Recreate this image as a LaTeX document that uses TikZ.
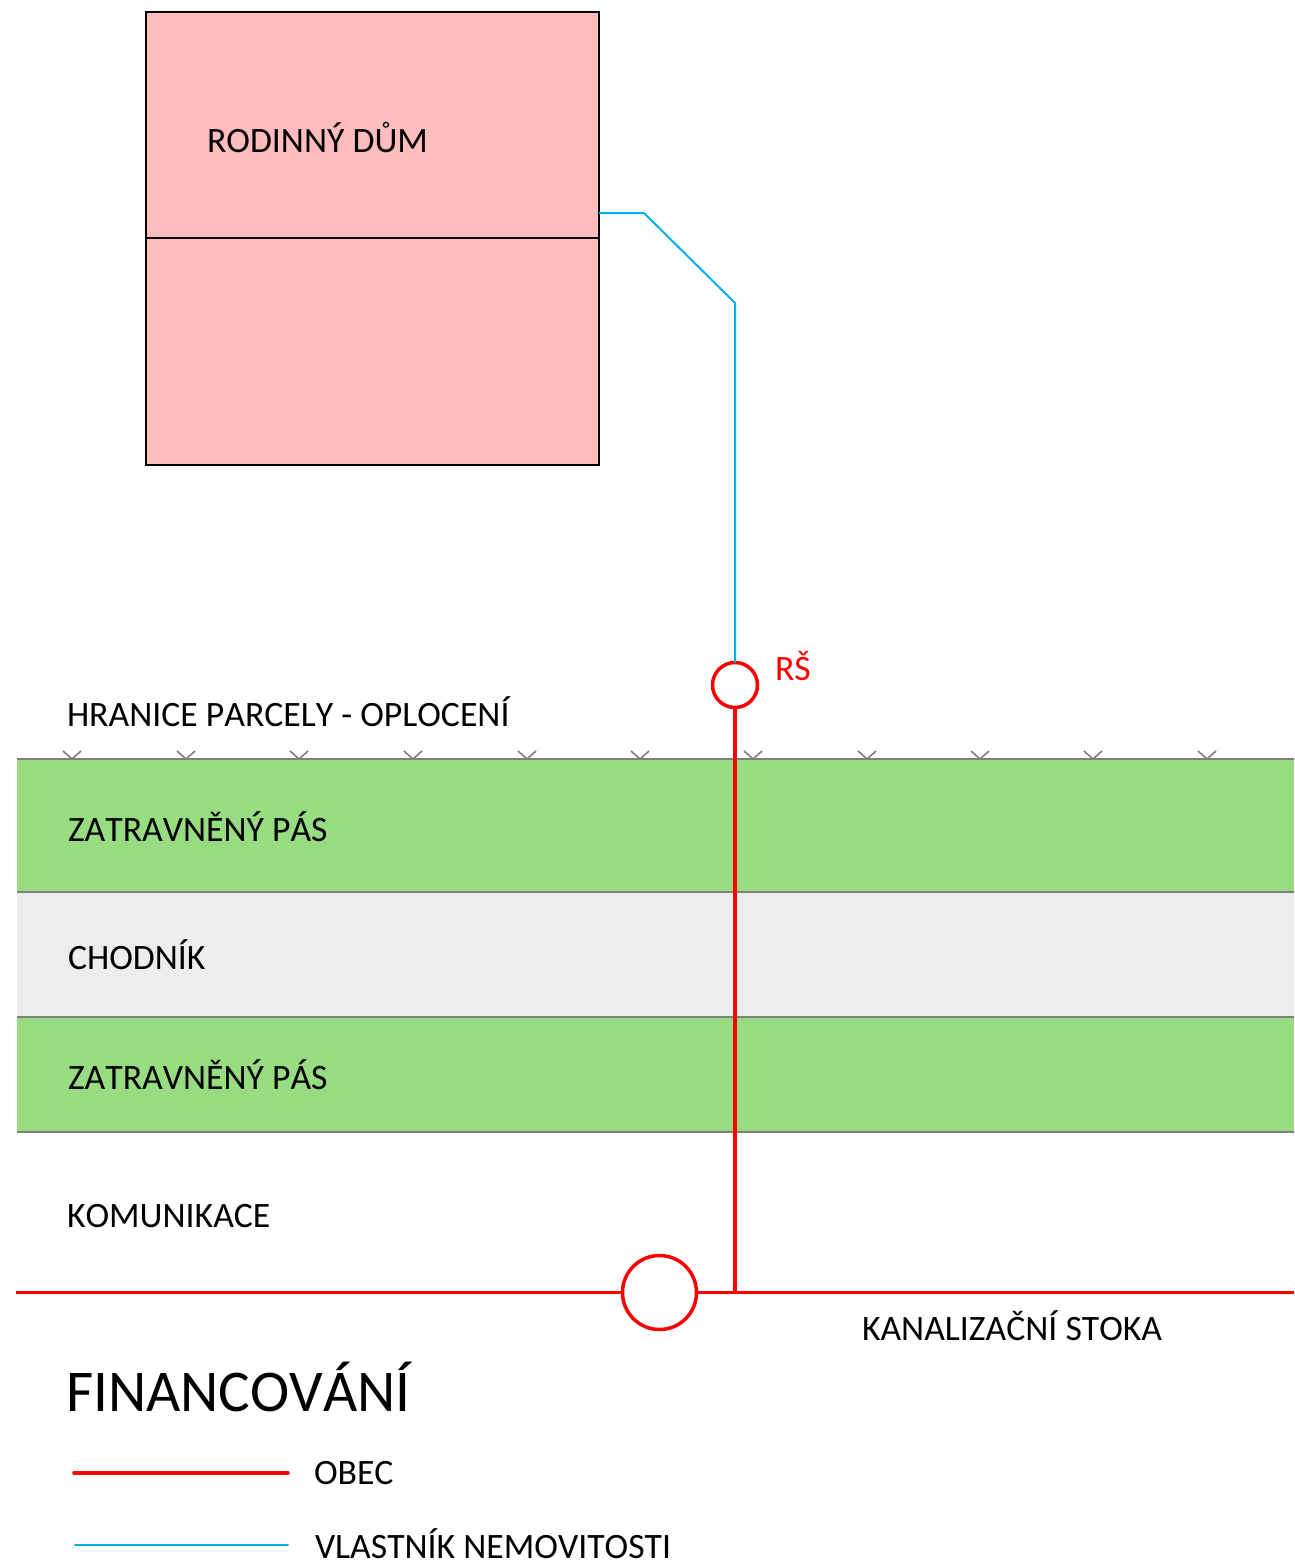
\documentclass[tikz,border=0pt]{standalone}
\usepackage{fontspec}
\setmainfont[Kerning=Off]{Carlito}
\definecolor{housepink}{HTML}{FFBDBD}
\definecolor{grassgreen}{HTML}{97DC81}
\definecolor{walkgray}{HTML}{EDEDED}
\definecolor{edgegray}{HTML}{7F7F7F}
\definecolor{ownerblue}{HTML}{00B0F0}
\definecolor{cityred}{HTML}{FF0000}
\tikzset{
  lbl/.style={anchor=base west,inner sep=0pt,outer sep=0pt,font=\fontsize{35.7}{36}\selectfont,text=black},
  biglbl/.style={lbl,font=\fontsize{59.2}{60}\selectfont},
  redlbl/.style={lbl,text=cityred},
  houseblock/.style={draw=black,line width=2pt,fill=housepink,minimum width=453pt,inner sep=0pt,outer sep=0pt,anchor=north west},
  band/.style={fill=#1,draw=none,minimum width=1277pt,inner sep=0pt,outer sep=0pt,anchor=north west},
  edgeline/.style={draw=edgegray,line width=1.6pt},
  fencetick/.style={draw=edgegray,line width=1.6pt},
  ownerpipe/.style={draw=ownerblue,line width=2pt},
  citypipe/.style={draw=cityred,line width=3.5pt},
  shaft/.style={circle,draw=cityred,line width=3.5pt,fill=white,inner sep=0pt,outer sep=0pt},
}
\begin{document}
\begin{tikzpicture}[x=1pt,y=-1pt]
\useasboundingbox (0,0) rectangle (1294,1563);
% bands
\node[band=grassgreen,minimum height=133pt] (grassA) at (17,759) {};
\node[band=walkgray,minimum height=125pt] (walk) at (17,892) {};
\node[band=grassgreen,minimum height=115pt] (grassB) at (17,1017) {};
\foreach \n/\a in {grassA/north,grassA/south,walk/south,grassB/south}
  \draw[edgeline] (\n.\a\space west) -- (\n.\a\space east);
% fence
\foreach \x in {72,186,299,413,527,640,753,867,980,1093,1207}
  \draw[fencetick] (\x-9,751) -- (\x,759) -- (\x+9,751);
% house
\node[houseblock,minimum height=226pt] (houseA) at (146,12) {};
\node[houseblock,minimum height=227pt] (houseB) at (146,238) {};
% nodes for shafts
\node[shaft,minimum size=45pt] (rs) at (735,685) {};
\node[shaft,minimum size=74pt] (main) at (659.5,1292.5) {};
\coordinate (sewerL) at (16,1292.5);
\coordinate (sewerR) at (1294,1292.5);
\coordinate (joint) at (735,1292.5);
\coordinate (houseOut) at (599,213);
\coordinate (bendA) at (644,213);
\coordinate (bendB) at (735,303);
% pipes
\draw[ownerpipe] (houseOut) -- (bendA) -- (bendB) -- (rs.north);
\draw[citypipe] (rs.south) -- (joint);
\draw[citypipe] (sewerL) -- (main.west);
\draw[citypipe] (main.east) -- (sewerR);
% labels
\node[lbl] (tHouse) at (207,152) {RODINNÝ DŮM};
\node[redlbl] (tRS) at (775,680) {RŠ};
\node[lbl] (tFence) at (67,726) {HRANICE PARCELY - OPLOCENÍ};
\node[lbl] (tGrassA) at (68,841) {ZATRAVNĚNÝ PÁS};
\node[lbl] (tWalk) at (68,969) {CHODNÍK};
\node[lbl] (tGrassB) at (68,1089) {ZATRAVNĚNÝ PÁS};
\node[lbl] (tRoad) at (67,1227) {KOMUNIKACE};
\node[lbl] (tSewer) at (862,1340) {KANALIZAČNÍ STOKA};
\node[biglbl] (tFin) at (66,1411) {FINANCOVÁNÍ};
\node[lbl] (tObec) at (314,1484) {OBEC};
\node[lbl] (tOwner) at (315,1558) {VLASTNÍK NEMOVITOSTI};
% legend
\coordinate (legRedA) at (74,1473);
\coordinate (legRedB) at (288,1473);
\coordinate (legBlueA) at (75,1544.5);
\coordinate (legBlueB) at (288,1544.5);
\draw[citypipe,line cap=round] (legRedA) -- (legRedB);
\draw[ownerpipe,line cap=round] (legBlueA) -- (legBlueB);
\end{tikzpicture}
\end{document}
